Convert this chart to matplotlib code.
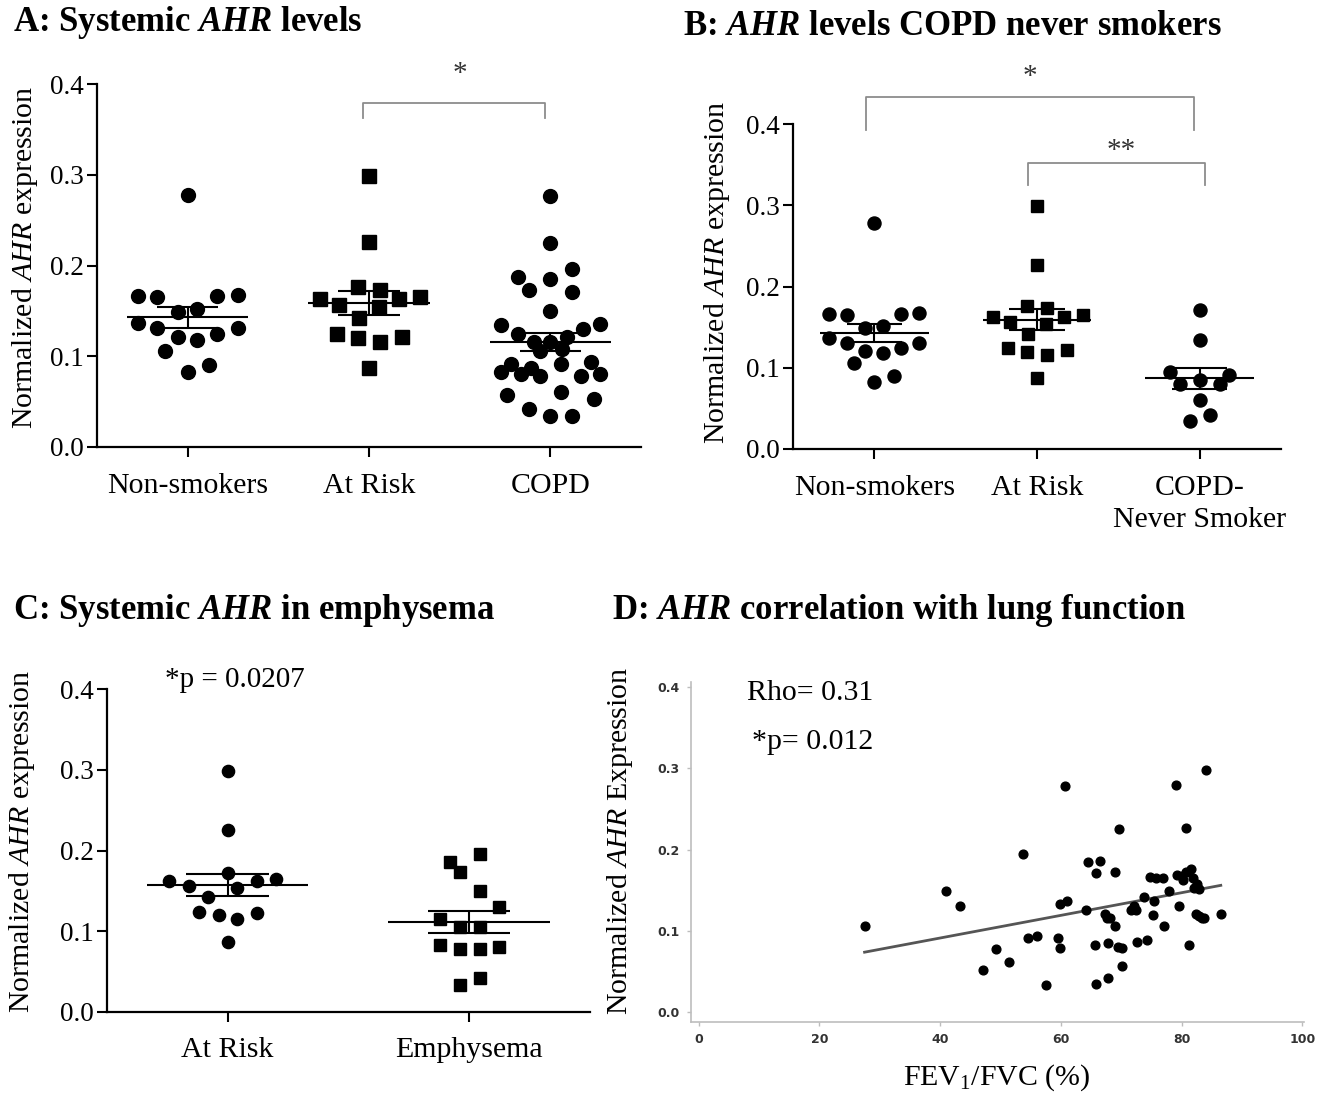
import numpy as np
import matplotlib
matplotlib.use("Agg")
import matplotlib.pyplot as plt

plt.rcParams["font.family"] = "Liberation Serif"
plt.rcParams["mathtext.fontset"] = "custom"
plt.rcParams["mathtext.rm"] = "Liberation Serif"
plt.rcParams["mathtext.it"] = "Liberation Serif:italic"
plt.rcParams["mathtext.bf"] = "Liberation Serif:bold"
plt.rcParams["mathtext.bfit"] = "Liberation Serif:bold:italic"

# ---- data -------------------------------------------------------------
# normalized AHR expression per subject, with the horizontal spread of each dot
nonsmokers = [0.278, 0.166, 0.165, 0.166, 0.168, 0.149, 0.152, 0.137, 0.131, 0.131,
              0.121, 0.118, 0.124, 0.106, 0.083, 0.090]
nonsmokers_spread = [0, -0.276, -0.167, 0.163, 0.276, -0.055, 0.053, -0.276, -0.167, 0.276,
                     -0.055, 0.053, 0.163, -0.124, 0, 0.118]

at_risk = [0.2985, 0.226, 0.176, 0.173, 0.163, 0.163, 0.165, 0.156, 0.154, 0.142,
           0.1245, 0.120, 0.116, 0.1216, 0.087]
at_risk_spread = [0, 0, -0.059, 0.063, -0.272, 0.167, 0.28, -0.163, 0.057, -0.055,
                  -0.179, -0.061, 0.063, 0.183, 0]

copd = [0.277, 0.225, 0.196, 0.187, 0.185, 0.173, 0.171, 0.150, 0.134, 0.136,
        0.130, 0.1245, 0.1216, 0.116, 0.1154, 0.108, 0.106, 0.092, 0.091, 0.094,
        0.083, 0.0806, 0.087, 0.078, 0.078, 0.0806, 0.0575, 0.061, 0.053, 0.042,
        0.034, 0.034]
copd_spread = [0, 0, 0.122, -0.179, 0, -0.118, 0.120, 0, -0.272, 0.274,
               0.181, -0.179, 0.093, -0.089, 0, 0.063, -0.055, -0.219, 0.057, 0.226,
               -0.272, -0.163, -0.108, -0.055, 0.167, 0.276, -0.238, 0.057, 0.240, -0.118,
               0, 0.120]

copd_never = [0.1705, 0.134, 0.0947, 0.0906, 0.0795, 0.0844, 0.0795, 0.0607, 0.0344, 0.0418]
copd_never_spread = [0, 0, -0.18, 0.182, -0.118, 0, 0.123, 0, -0.059, 0.066]

risk_c = [0.2988, 0.226, 0.1715, 0.1624, 0.1558, 0.1624, 0.1645, 0.153, 0.1417, 0.124,
          0.1194, 0.1153, 0.122, 0.0868]
risk_c_spread = [0, 0, 0, -0.241, -0.159, 0.12, 0.2, 0.041, -0.079, -0.12,
                 -0.037, 0.041, 0.12, 0]

emphysema = [0.1955, 0.186, 0.173, 0.150, 0.130, 0.1145, 0.1054, 0.1054, 0.0826, 0.0773,
             0.0773, 0.0798, 0.0413, 0.033]
emphysema_spread = [0.044, -0.08, -0.039, 0.044, 0.124, -0.12, -0.039, 0.044, -0.12, -0.039,
                    0.044, 0.124, 0.044, -0.039]

labels_a = ["Non-smokers", "At Risk", "COPD"]
labels_b = ["Non-smokers", "At Risk", "COPD-\nNever Smoker"]
labels_c = ["At Risk", "Emphysema"]

# FEV1/FVC (%) against AHR expression
fev_ratio = [27.5, 41.0, 43.3, 49.2, 47.1, 51.4, 53.8, 54.5, 56.1, 57.6,
             59.6, 59.9, 59.9, 60.7, 61.1, 64.2, 64.5, 65.6, 65.8, 65.9,
             66.5, 67.4, 67.6, 67.8, 67.9, 68.1, 69.0, 69.0, 69.4, 69.7,
             70.1, 70.1, 71.7, 72.2, 72.4, 72.6, 73.7, 74.2, 74.7, 75.2,
             75.5, 75.7, 76.9, 77.1, 77.9, 79.1, 79.2, 79.6, 80.1, 80.3,
             80.7, 80.7, 81.2, 81.6, 81.9, 82.1, 82.4, 82.6, 82.9, 82.9,
             83.4, 83.7, 84.1, 86.5]
ahr_expr = [0.106, 0.149, 0.130, 0.077, 0.052, 0.061, 0.195, 0.091, 0.094, 0.033,
            0.0905, 0.133, 0.078, 0.278, 0.136, 0.125, 0.185, 0.082, 0.034, 0.171,
            0.186, 0.121, 0.115, 0.041, 0.085, 0.115, 0.106, 0.172, 0.080, 0.225,
            0.056, 0.079, 0.125, 0.130, 0.125, 0.086, 0.142, 0.089, 0.166, 0.119,
            0.137, 0.165, 0.165, 0.106, 0.149, 0.279, 0.169, 0.130, 0.167, 0.163,
            0.226, 0.172, 0.082, 0.176, 0.165, 0.153, 0.121, 0.158, 0.118, 0.151,
            0.116, 0.115, 0.298, 0.121]

# ---- layout -----------------------------------------------------------
W, H = 1334, 1093
fig = plt.figure(figsize=(W / 100, H / 100), dpi=100)


def add_axes_px(left, right, top, bottom):
    return fig.add_axes([left / W, 1 - bottom / H, (right - left) / W, (bottom - top) / H])


def dot_panel(ax, groups, labels, ms_list):
    for i, (vals, spread, marker) in enumerate(groups):
        pos = i + 1
        vals = np.asarray(vals)
        ax.plot(pos + np.asarray(spread), vals, ls="none", marker=marker,
                ms=ms_list[i], color="black", clip_on=False, zorder=3)
        mean = vals.mean()
        sem = vals.std(ddof=1) / np.sqrt(len(vals))
        ax.hlines(mean, pos - 0.335, pos + 0.335, color="black", lw=1.5, zorder=4)
        ax.hlines([mean - sem, mean + sem], pos - 0.17, pos + 0.17, color="black", lw=1.5, zorder=4)
        ax.vlines(pos, mean - sem, mean + sem, color="black", lw=1.5, zorder=4)
    ax.set_xlim(0.5, len(groups) + 0.5)
    ax.set_ylim(0, 0.4)
    ax.set_yticks([0, 0.1, 0.2, 0.3, 0.4])
    ax.set_yticklabels(["0.0", "0.1", "0.2", "0.3", "0.4"])
    ax.set_xticks(range(1, len(groups) + 1))
    ax.set_xticklabels(labels, linespacing=1.3)
    for s in ["top", "right"]:
        ax.spines[s].set_visible(False)
    for s in ["left", "bottom"]:
        ax.spines[s].set_linewidth(1.6)
    ax.tick_params(axis="both", direction="out", length=7.5, width=1.5)
    ax.tick_params(axis="y", labelsize=19.5, pad=2)
    ax.tick_params(axis="x", labelsize=21.5, pad=11)


def bracket(ax, x0, x1, y_top, y_tip):
    ax.plot([x0, x0, x1, x1], [y_tip, y_top, y_top, y_tip], color="#8c8c8c",
            lw=1.3, clip_on=False, solid_joinstyle="round")


ylab = r"Normalized $\mathit{AHR}$ expression"

# A: systemic AHR levels
ax_a = add_axes_px(97, 641, 84, 447)
dot_panel(ax_a, [(nonsmokers, nonsmokers_spread, "o"), (at_risk, at_risk_spread, "s"),
                 (copd, copd_spread, "o")], labels_a, [10, 9.5, 10])
bracket(ax_a, 1.969, 2.97, 0.379, 0.363)
ax_a.text(2.5, 0.4037, "*", ha="center", va="baseline", fontsize=21, color="#333333", clip_on=False)

# B: COPD never smokers
ax_b = add_axes_px(793, 1281, 124, 449)
dot_panel(ax_b, [(nonsmokers, nonsmokers_spread, "o"), (at_risk, at_risk_spread, "s"),
                 (copd_never, copd_never_spread, "o")], labels_b, [9.4, 9, 9.4])
bracket(ax_b, 0.947, 2.963, 0.4336, 0.3926)
bracket(ax_b, 1.947, 3.03, 0.3516, 0.325)
ax_b.text(1.955, 0.449, "*", ha="center", va="baseline", fontsize=21, color="#333333", clip_on=False)
ax_b.text(2.52, 0.358, "**", ha="center", va="baseline", fontsize=21, color="#333333", clip_on=False)

# C: emphysema
ax_c = add_axes_px(106.7, 590, 689.3, 1011.7)
dot_panel(ax_c, [(risk_c, risk_c_spread, "o"), (emphysema, emphysema_spread, "s")],
          labels_c, [8.8, 8.6])
ax_c.text(0.742, 0.4032, "*p = 0.0207", ha="left", va="baseline", fontsize=21, clip_on=False)

# D: correlation with FEV1/FVC
ax_d = add_axes_px(690.7, 1303.5, 681.7, 1021.7)
fx = np.asarray(fev_ratio)
fy = np.asarray(ahr_expr)
ax_d.plot(fx, fy, ls="none", marker="o", ms=6.3, color="black", zorder=3)
slope, intercept = np.polyfit(fx, fy, 1)
line_x = np.array([fx.min(), fx.max()])
ax_d.plot(line_x, intercept + slope * line_x, color="#555555", lw=2, zorder=2)
ax_d.set_xlim(-1.3, 100.2)
ax_d.set_ylim(-0.0123, 0.407)
ax_d.set_xticks([0, 20, 40, 60, 80, 100])
ax_d.set_yticks([0, 0.1, 0.2, 0.3, 0.4])
ax_d.set_yticklabels(["0.0", "0.1", "0.2", "0.3", "0.4"])
for s in ["top", "right"]:
    ax_d.spines[s].set_visible(False)
for s in ["left", "bottom"]:
    ax_d.spines[s].set_color("#bdbdbd")
    ax_d.spines[s].set_linewidth(1.2)
ax_d.tick_params(axis="both", direction="out", length=3, width=1, color="#bdbdbd",
                 labelsize=9, labelcolor="#333333", pad=5)
for lab in ax_d.get_xticklabels() + ax_d.get_yticklabels():
    lab.set_fontfamily("Liberation Sans Narrow")
    lab.set_fontweight("bold")
ax_d.text(8.1, 0.385, "Rho= 0.31", ha="left", va="baseline", fontsize=21.5)
ax_d.text(8.8, 0.3236, "*p= 0.012", ha="left", va="baseline", fontsize=21.5)

# panel titles
fig.text(12.7 / W, 1 - 30.7 / H, r"A: Systemic $\mathbfit{AHR}$ levels",
         fontsize=25, fontweight="bold", ha="left", va="baseline")
fig.text(683 / W, 1 - 35 / H, r"B: $\mathbfit{AHR}$ levels COPD never smokers",
         fontsize=25, fontweight="bold", ha="left", va="baseline")
fig.text(12.7 / W, 1 - 619 / H, r"C: Systemic $\mathbfit{AHR}$ in emphysema",
         fontsize=25, fontweight="bold", ha="left", va="baseline")
fig.text(612 / W, 1 - 619 / H, r"D: $\mathbfit{AHR}$ correlation with lung function",
         fontsize=25, fontweight="bold", ha="left", va="baseline")

# axis labels
fig.text(25 / W, 1 - 257 / H, ylab, rotation=90, fontsize=21.5, ha="center", va="center")
fig.text(717 / W, 1 - 272 / H, ylab, rotation=90, fontsize=21.5, ha="center", va="center")
fig.text(22 / W, 1 - 841 / H, ylab, rotation=90, fontsize=21.5, ha="center", va="center")
fig.text(620 / W, 1 - 841 / H, r"Normalized $\mathit{AHR}$ Expression", rotation=90,
         fontsize=21.5, ha="center", va="center")
fig.text(997 / W, 1 - 1085 / H, r"FEV$_1$/FVC (%)", fontsize=21.5, ha="center", va="baseline")

fig.savefig("out.png", dpi=100, facecolor="white")
